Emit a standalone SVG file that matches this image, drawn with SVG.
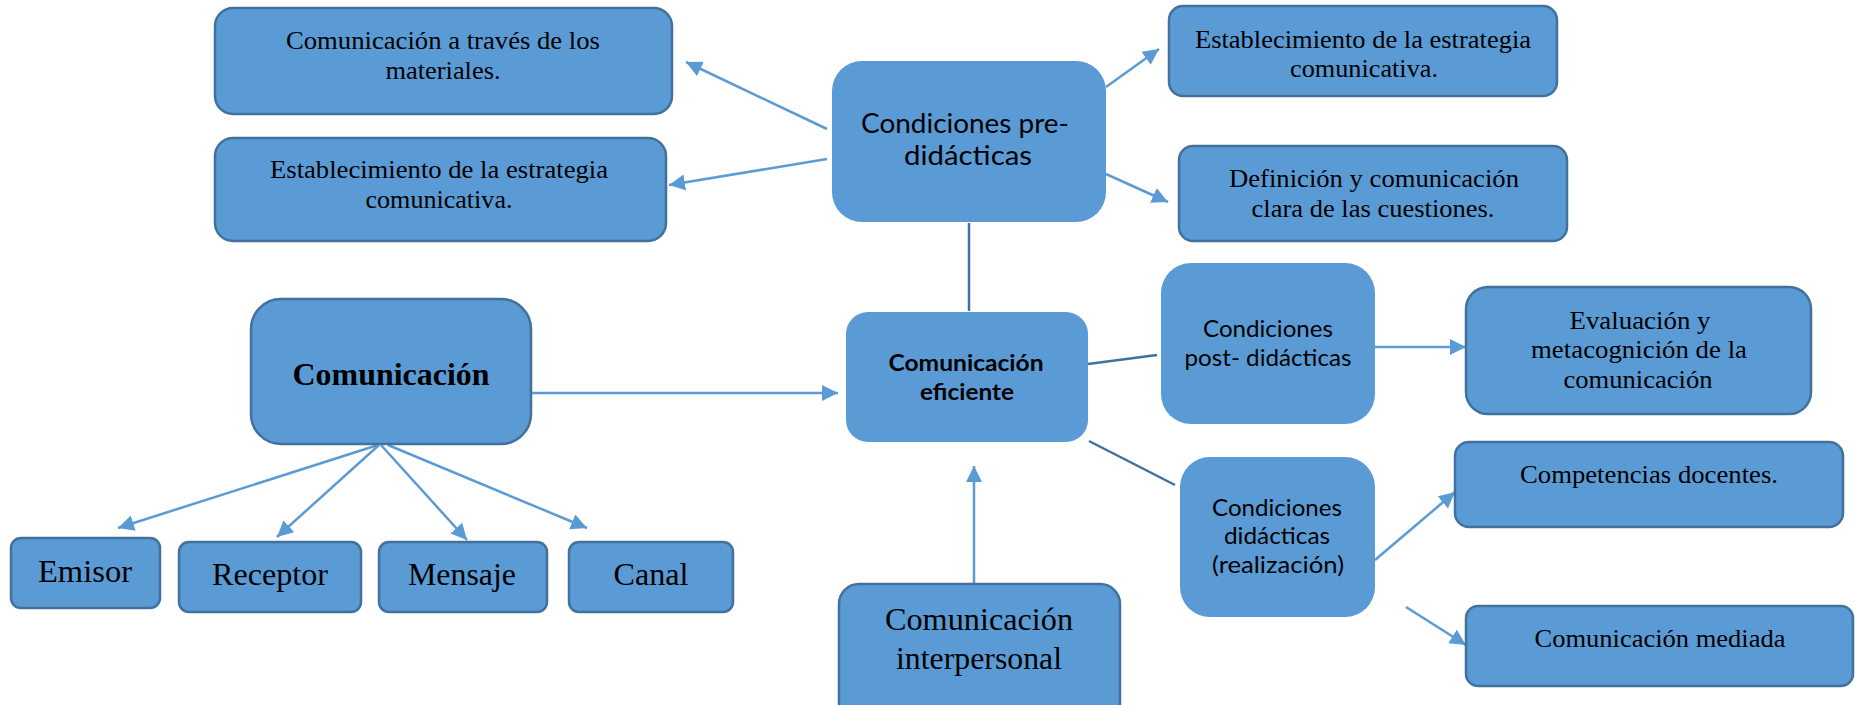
<svg xmlns="http://www.w3.org/2000/svg" width="1855" height="705" viewBox="0 0 1855 705">
<style>
.box{fill:#5B9BD5;stroke:#41719C;stroke-width:2.5}
.sbox{fill:#5B9BD5;stroke:none}
.t{font-family:"Liberation Serif","Times New Roman",serif;font-size:26px;fill:#000;text-anchor:middle}
.tl{font-family:"Liberation Serif","Times New Roman",serif;font-size:31px;fill:#000;text-anchor:middle}
.tb{font-family:"Liberation Serif","Times New Roman",serif;font-size:32px;font-weight:bold;fill:#000;text-anchor:middle}
.c{font-family:Lato,"Open Sans",sans-serif;font-size:23px;fill:#000;text-anchor:middle}
.cp{font-family:Lato,"Open Sans",sans-serif;font-size:27px;fill:#000;text-anchor:middle}
.cb{font-family:Lato,"Open Sans",sans-serif;font-size:23px;font-weight:bold;fill:#000;text-anchor:middle}
.ln{fill:none;stroke:#5B9BD5;stroke-width:2.5}
.dk{fill:none;stroke:#41719C;stroke-width:2.5}
.ar{marker-end:url(#ah)}
</style>
<defs>
<marker id="ah" markerUnits="userSpaceOnUse" markerWidth="17" markerHeight="17" refX="16" refY="8" orient="auto">
<path d="M0,0 L16,8 L0,16 Z" fill="#5B9BD5"/>
</marker>
</defs>
<rect width="1855" height="705" fill="#fff"/>
<g id="connectors">
<path class="ln ar" d="M827,129 L686,62"/>
<path class="ln ar" d="M827,159 L669,185"/>
<path class="ln ar" d="M1106,87 L1159,49"/>
<path class="ln ar" d="M1106,174 L1168,202"/>
<path class="dk" d="M969,223 L969,311"/>
<path class="ln ar" d="M531,393 L838,393"/>
<path class="dk" d="M1088,364 L1157,355"/>
<path class="dk" d="M1089,441 L1175,485"/>
<path class="ln ar" d="M1375,347 L1466,347"/>
<path class="ln ar" d="M1375,560 L1455,492"/>
<path class="ln ar" d="M1406,607 L1466,645"/>
<path class="ln ar" d="M974,584 L974,466"/>
<path class="ln ar" d="M378,445 L118,528"/>
<path class="ln ar" d="M379,445 L277,537"/>
<path class="ln ar" d="M381,445 L467,540"/>
<path class="ln ar" d="M388,445 L587,528"/>
</g>
<g id="n-materiales">
<rect class="box" x="215" y="8" width="457" height="106" rx="18"/>
<text class="t" x="443" y="49" textLength="314" lengthAdjust="spacingAndGlyphs">Comunicación a través de los</text>
<text class="t" x="443" y="79" textLength="115" lengthAdjust="spacingAndGlyphs">materiales.</text>
</g>
<g id="n-estrategia-izq">
<rect class="box" x="215" y="138" width="451" height="103" rx="18"/>
<text class="t" x="439" y="178" textLength="338" lengthAdjust="spacingAndGlyphs">Establecimiento de la estrategia</text>
<text class="t" x="439" y="208" textLength="147" lengthAdjust="spacingAndGlyphs">comunicativa.</text>
</g>
<g id="n-pre">
<rect class="sbox" x="832" y="61" width="274" height="161" rx="30"/>
<text class="cp" x="965" y="133" textLength="208" lengthAdjust="spacingAndGlyphs">Condiciones pre-</text>
<text class="cp" x="968" y="165" textLength="128" lengthAdjust="spacingAndGlyphs">didácticas</text>
</g>
<g id="n-estrategia-der">
<rect class="box" x="1169" y="6" width="388" height="90" rx="14"/>
<text class="t" x="1363" y="48" textLength="336" lengthAdjust="spacingAndGlyphs">Establecimiento de la estrategia</text>
<text class="t" x="1364" y="77" textLength="148" lengthAdjust="spacingAndGlyphs">comunicativa.</text>
</g>
<g id="n-definicion">
<rect class="box" x="1179" y="146" width="388" height="95" rx="14"/>
<text class="t" x="1374" y="187" textLength="290" lengthAdjust="spacingAndGlyphs">Definición y comunicación</text>
<text class="t" x="1373" y="217" textLength="243" lengthAdjust="spacingAndGlyphs">clara de las cuestiones.</text>
</g>
<g id="n-comunicacion">
<rect class="box" x="251" y="299" width="280" height="145" rx="30"/>
<text class="tb" x="391" y="385" textLength="197" lengthAdjust="spacingAndGlyphs">Comunicación</text>
</g>
<g id="n-eficiente">
<rect class="sbox" x="846" y="312" width="242" height="130" rx="22"/>
<text class="cb" x="966" y="371" textLength="155" lengthAdjust="spacingAndGlyphs">Comunicación</text>
<text class="cb" x="967" y="400" textLength="94" lengthAdjust="spacingAndGlyphs">eficiente</text>
</g>
<g id="n-post">
<rect class="sbox" x="1161" y="263" width="214" height="161" rx="30"/>
<text class="c" x="1268" y="337" textLength="130" lengthAdjust="spacingAndGlyphs">Condiciones</text>
<text class="c" x="1268" y="366" textLength="167" lengthAdjust="spacingAndGlyphs">post- didácticas</text>
</g>
<g id="n-evaluacion">
<rect class="box" x="1466" y="287" width="345" height="127" rx="22"/>
<text class="t" x="1640" y="329" textLength="141" lengthAdjust="spacingAndGlyphs">Evaluación y</text>
<text class="t" x="1639" y="358" textLength="216" lengthAdjust="spacingAndGlyphs">metacognición de la</text>
<text class="t" x="1638" y="388" textLength="149" lengthAdjust="spacingAndGlyphs">comunicación</text>
</g>
<g id="n-didacticas">
<rect class="sbox" x="1180" y="457" width="195" height="160" rx="30"/>
<text class="c" x="1277" y="516" textLength="130" lengthAdjust="spacingAndGlyphs">Condiciones</text>
<text class="c" x="1277" y="544" textLength="106" lengthAdjust="spacingAndGlyphs">didácticas</text>
<text class="c" x="1278" y="573" textLength="132" lengthAdjust="spacingAndGlyphs">(realización)</text>
</g>
<g id="n-competencias">
<rect class="box" x="1455" y="442" width="388" height="85" rx="14"/>
<text class="t" x="1649" y="483" textLength="258" lengthAdjust="spacingAndGlyphs">Competencias docentes.</text>
</g>
<g id="n-mediada">
<rect class="box" x="1466" y="606" width="387" height="80" rx="12"/>
<text class="t" x="1660" y="647" textLength="251" lengthAdjust="spacingAndGlyphs">Comunicación mediada</text>
</g>
<g id="n-interpersonal">
<rect class="box" x="839" y="584" width="281" height="140" rx="20"/>
<text class="tl" x="979" y="630" textLength="188" lengthAdjust="spacingAndGlyphs">Comunicación</text>
<text class="tl" x="979" y="669" textLength="166" lengthAdjust="spacingAndGlyphs">interpersonal</text>
</g>
<g id="n-emisor">
<rect class="box" x="11" y="538" width="149" height="70" rx="10"/>
<text class="tl" x="85" y="582" textLength="94" lengthAdjust="spacingAndGlyphs">Emisor</text>
</g>
<g id="n-receptor">
<rect class="box" x="179" y="542" width="182" height="70" rx="10"/>
<text class="tl" x="270" y="585" textLength="116" lengthAdjust="spacingAndGlyphs">Receptor</text>
</g>
<g id="n-mensaje">
<rect class="box" x="379" y="542" width="168" height="70" rx="10"/>
<text class="tl" x="462" y="585" textLength="108" lengthAdjust="spacingAndGlyphs">Mensaje</text>
</g>
<g id="n-canal">
<rect class="box" x="569" y="542" width="164" height="70" rx="10"/>
<text class="tl" x="651" y="585" textLength="75" lengthAdjust="spacingAndGlyphs">Canal</text>
</g>
</svg>
